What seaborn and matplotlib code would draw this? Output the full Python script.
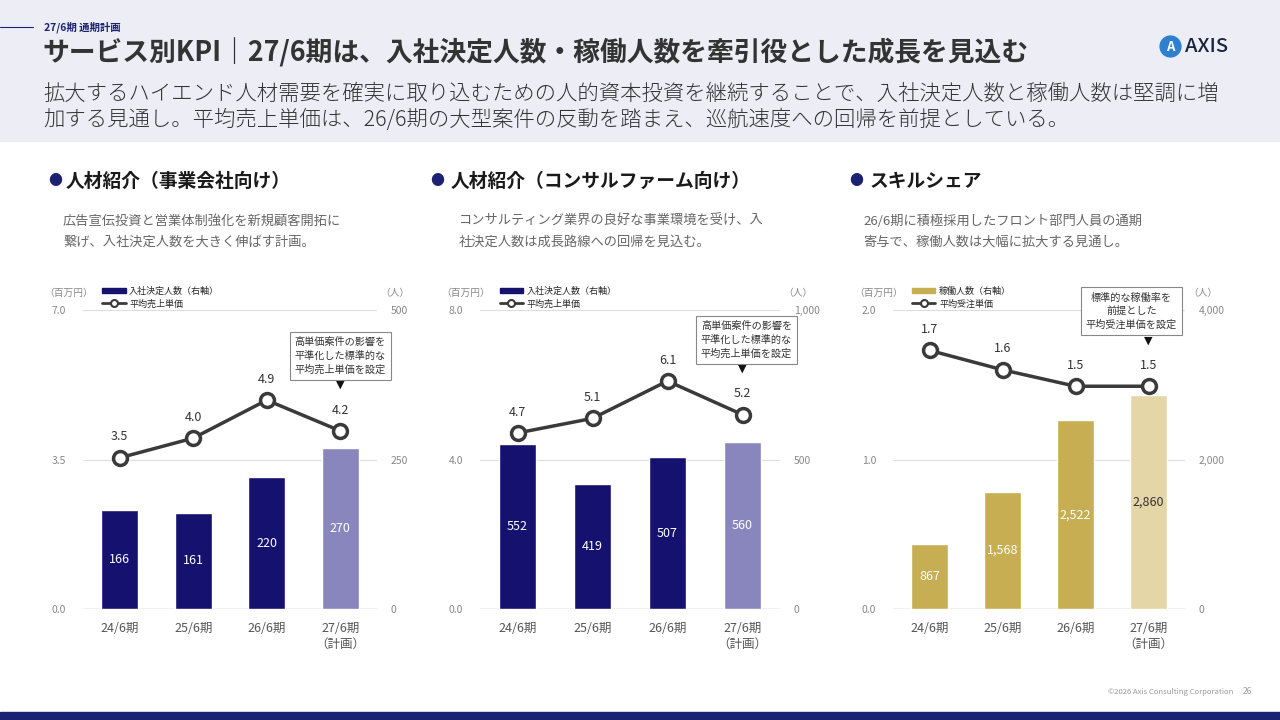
import matplotlib
matplotlib.use("Agg")
import matplotlib.pyplot as plt
import seaborn as sns
import numpy as np
import pandas as pd
from matplotlib.patches import Rectangle, Patch
from matplotlib.lines import Line2D

# data
periods = ["24/6期", "25/6期", "26/6期", "27/6期\n（計画）"]

corp_hires = [166, 161, 220, 270]
corp_price = [3.54, 4.0, 4.89, 4.17]

consul_hires = [552, 419, 507, 560]
consul_price = [4.71, 5.1, 6.1, 5.2]

skill_workers = [867, 1568, 2522, 2860]
skill_price = [1.73, 1.60, 1.49, 1.49]

sns.set_theme(style="white")
plt.rcParams['font.family'] = ['Noto Sans CJK JP', 'DejaVu Sans']

W, H = 1280, 720
fig = plt.figure(figsize=(12.8, 7.2), dpi=100)
fig.patch.set_facecolor("white")

def px(x, y):
    return x / W, 1 - y / H

# header band and footer stripe
fig.patches.append(Rectangle((0, 1 - 141 / H), 1, 141 / H, transform=fig.transFigure,
                             color="#EDEEF5", zorder=0))
fig.patches.append(Rectangle((0, 0), 1, 8 / H, transform=fig.transFigure,
                             color="#1B2273", zorder=0))
fig.lines.append(Line2D([0, 33 / W], [1 - 27 / H] * 2, transform=fig.transFigure,
                        color="#1B2273", lw=0.8))

fig.text(*px(44, 27), "27/6期 通期計画", fontsize=7.5, fontweight="bold",
         color="#1B2273", va="center")
fig.text(*px(42, 53), "サービス別KPI｜27/6期は、入社決定人数・稼働人数を牽引役とした成長を見込む",
         fontsize=19.3, fontweight="bold", color="#333333", va="center")
fig.text(*px(43, 94), "拡大するハイエンド人材需要を確実に取り込むための人的資本投資を継続することで、入社決定人数と稼働人数は堅調に増",
         fontsize=15.4, fontweight="light", color="#333333", va="center")
fig.text(*px(43, 120), "加する見通し。平均売上単価は、26/6期の大型案件の反動を踏まえ、巡航速度への回帰を前提としている。",
         fontsize=15.4, fontweight="light", color="#333333", va="center")

# logo
fig.lines.append(Line2D([1170 / W], [1 - 46 / H], transform=fig.transFigure,
                        marker="o", markersize=15, color="#2F7FD0", lw=0))
fig.text(*px(1170, 47), "A", fontsize=9.5, fontweight="bold", color="white",
         ha="center", va="center", zorder=3)
fig.text(*px(1185, 47), "AXIS", fontsize=14.5, fontweight="medium", color="#1A2440",
         va="center")

# footer
fig.text(*px(1233, 692), "©2026 Axis Consulting Corporation", fontsize=5.5,
         color="#999999", ha="right", va="center")
fig.text(*px(1243, 692), "26", fontsize=6, color="#999999", va="center")

panels = [
    dict(left=83, width=294, title="人材紹介（事業会社向け）", tx=66, bx=55,
         desc="広告宣伝投資と営業体制強化を新規顧客開拓に\n繋げ、入社決定人数を大きく伸ばす計画。", dx=63,
         bars=corp_hires, line=corp_price, ymax=7.0, rmax=500,
         colors=["#15116F", "#15116F", "#15116F", "#8986BE"], tcol=["white"] * 4,
         bar_name="入社決定人数（右軸）", line_name="平均売上単価",
         note="高単価案件の影響を\n平準化した標準的な\n平均売上単価を設定", note_dx=0),
    dict(left=480, width=300, title="人材紹介（コンサルファーム向け）", tx=451, bx=437,
         desc="コンサルティング業界の良好な事業環境を受け、入\n社決定人数は成長路線への回帰を見込む。", dx=459,
         bars=consul_hires, line=consul_price, ymax=8.0, rmax=1000,
         colors=["#15116F", "#15116F", "#15116F", "#8986BE"], tcol=["white"] * 4,
         bar_name="入社決定人数（右軸）", line_name="平均売上単価",
         note="高単価案件の影響を\n平準化した標準的な\n平均売上単価を設定", note_dx=4),
    dict(left=893, width=292, title="スキルシェア", tx=870, bx=856,
         desc="26/6期に積極採用したフロント部門人員の通期\n寄与で、稼働人数は大幅に拡大する見通し。", dx=863,
         bars=skill_workers, line=skill_price, ymax=2.0, rmax=4000,
         colors=["#C8AE52", "#C8AE52", "#C8AE52", "#E4D6A6"],
         tcol=["white", "white", "white", "#333333"],
         bar_name="稼働人数（右軸）", line_name="平均受注単価",
         note="標準的な稼働率を\n前提とした\n平均受注単価を設定", note_dx=-17),
]

grey = "#666666"
for p in panels:
    # section heading + description
    fig.text(*px(p["bx"], 181), "●", fontsize=10, color="#1B2273", ha="center", va="center")
    fig.text(*px(p["tx"], 181), p["title"], fontsize=13.5, fontweight="bold",
             color="#1A1A1A", va="center")
    fig.text(*px(p["dx"], 215), p["desc"], fontsize=9.5, color=grey, va="top",
             linespacing=1.75)

    ax = fig.add_axes([p["left"] / W, 111 / H, p["width"] / W, 299 / H])
    ax2 = ax.twinx()

    df = pd.DataFrame({"period": periods, "value": p["bars"]})
    sns.barplot(data=df, x="period", y="value", hue="period", palette=p["colors"],
                width=0.5, legend=False, ax=ax2, saturation=1, zorder=2)
    ax2.set_ylim(0, p["rmax"])
    ax2.set_yticks([0, p["rmax"] / 2, p["rmax"]])
    ax2.set_yticklabels([f"{int(v):,}" for v in ax2.get_yticks()])
    ax2.yaxis.grid(True, color="#DDDDDD", lw=0.8, zorder=0)
    ax2.set_axisbelow(True)
    ax2.axhline(0, color="#BBBBBB", lw=1.0, zorder=1)
    for i, v in enumerate(p["bars"]):
        ax2.text(i, v / 2, f"{v:,}", ha="center", va="center", fontsize=9,
                 color=p["tcol"][i], zorder=5)

    ln = pd.DataFrame({"x": np.arange(len(periods)), "y": p["line"]})
    sns.lineplot(data=ln, x="x", y="y", ax=ax, color="#3A3A3A", lw=2.5,
                 marker="o", markersize=10, markerfacecolor="white",
                 markeredgecolor="#3A3A3A", markeredgewidth=2.5, zorder=4)
    for i, v in enumerate(p["line"]):
        ax.annotate(f"{v:.1f}", (i, v), xytext=(0, 15), textcoords="offset points",
                    ha="center", va="center", fontsize=9, color="#333333")
    ax.set_ylim(0, p["ymax"])
    ax.set_yticks([0, p["ymax"] / 2, p["ymax"]])
    ax.set_yticklabels([f"{v:.1f}" for v in ax.get_yticks()])
    ax.set_xlim(-0.5, len(periods) - 0.5)
    ax.set_xticks(range(len(periods)))
    ax.set_xticklabels(periods, linespacing=1.3, va="top")
    for a in (ax, ax2):
        a.set_xlabel("")
        a.set_ylabel("")

    ax.set_zorder(ax2.get_zorder() + 1)
    ax.patch.set_visible(False)
    for a in (ax, ax2):
        for s in a.spines.values():
            s.set_visible(False)
        a.tick_params(length=0)
    ax.tick_params(axis="y", labelsize=7.5, labelcolor="#888888", pad=12)
    ax2.tick_params(axis="y", labelsize=7.5, labelcolor="#888888", pad=10)
    ax.tick_params(axis="x", labelsize=9, labelcolor="#555555", pad=9)

    # unit labels
    ax.annotate("（百万円）", (0, 1), xycoords="axes fraction", xytext=(-10, 12),
                textcoords="offset points", ha="center", va="center",
                fontsize=7, color="#888888")
    ax.annotate("（人）", (1, 1), xycoords="axes fraction", xytext=(13, 12),
                textcoords="offset points", ha="center", va="center",
                fontsize=7, color="#888888")

    # legend
    handles = [Patch(color=p["colors"][0]),
               Line2D([], [], color="#3A3A3A", lw=2, marker="o", markersize=5,
                      markerfacecolor="white", markeredgewidth=1.5)]
    ax.legend(handles, [p["bar_name"], p["line_name"]], loc="lower left",
              bbox_to_anchor=(0.065, 1.005), frameon=False, fontsize=6.5,
              handlelength=2.6, handleheight=0.6, handletextpad=0.4,
              labelspacing=0.4, borderaxespad=0, borderpad=0)

    # note box + arrow over the plan year
    last = len(periods) - 1
    ax.annotate("▼", (last, p["line"][-1]), xytext=(0, 33), textcoords="offset points",
                ha="center", va="center", fontsize=8, color="#111111",
                family=["DejaVu Sans"])
    ax.annotate(p["note"], (last, p["line"][-1]), xytext=(p["note_dx"] * 0.72, 54),
                textcoords="offset points", ha="center", va="center", fontsize=7.3,
                color="#333333", linespacing=1.45,
                bbox=dict(boxstyle="square,pad=0.5", fc="white", ec="#888888", lw=0.8))

fig.savefig("out.png", dpi=100)
